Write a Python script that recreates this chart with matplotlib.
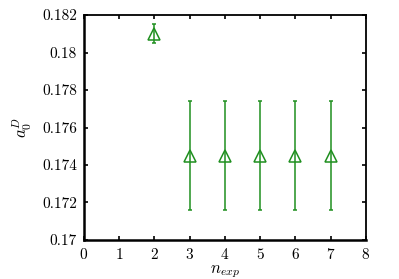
import matplotlib
matplotlib.use("Agg")
import matplotlib.pyplot as plt
from matplotlib.ticker import FuncFormatter, MultipleLocator

plt.rcParams['font.family'] = 'serif'
plt.rcParams['font.serif'] = ['cmr10']
plt.rcParams['mathtext.fontset'] = 'cm'
plt.rcParams['axes.formatter.use_mathtext'] = True

n_exp = [2, 3, 4, 5, 6, 7]
a0 = [0.1810, 0.1745, 0.1745, 0.1745, 0.1745, 0.1745]
a0_err = [0.00050, 0.00290, 0.00290, 0.00290, 0.00290, 0.00290]

fig = plt.figure(figsize=(3.99, 2.79), dpi=100)
ax = fig.add_axes([0.2105, 0.140, 0.7065, 0.806])

ax.errorbar(n_exp, a0, yerr=a0_err, fmt='^', mfc='none', mec='#1f8f1f',
            ecolor='#1f8f1f', ms=9, mew=1.1, elinewidth=1.1, capsize=1.5, capthick=1.1)

ax.set_xlim(0, 8)
ax.set_ylim(0.17, 0.182)
ax.xaxis.set_major_locator(MultipleLocator(1))
ax.yaxis.set_major_locator(MultipleLocator(0.002))
ax.yaxis.set_major_formatter(FuncFormatter(lambda v, p: '%g' % round(v, 4)))
ax.tick_params(direction='in', length=3, width=1.2, top=True, right=True,
               labelsize=11, pad=5)
for s in ['left', 'bottom']:
    ax.spines[s].set_linewidth(1.8)
for s in ['top', 'right']:
    ax.spines[s].set_linewidth(1.3)

ax.set_xlabel(r'$n_{exp}$', fontsize=12, labelpad=1)
ax.set_ylabel(r'$a_0^D$', fontsize=12, labelpad=6)

fig.savefig('out.png', dpi=100)
